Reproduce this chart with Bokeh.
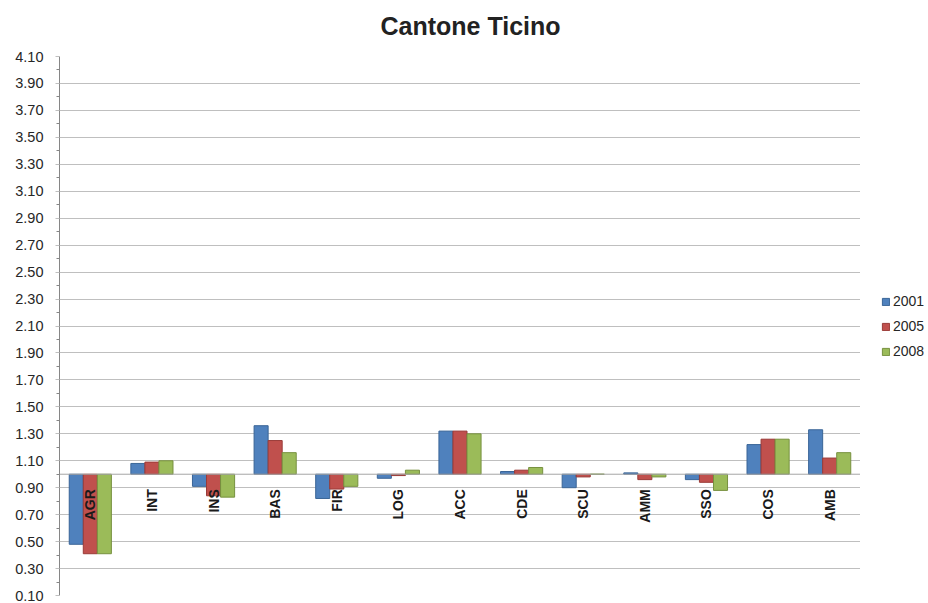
import numpy as np
from bokeh.plotting import figure
from bokeh.layouts import row
from bokeh.models import (Range1d, FactorRange, FixedTicker, NumeralTickFormatter,
                          ColumnDataSource, Span, Legend, LegendItem, Title)
from bokeh.transform import dodge
from bokeh.core.properties import value
from bokeh.embed import file_html
from bokeh.resources import INLINE

categories = ["AGR", "INT", "INS", "BAS", "FIR", "LOG", "ACC", "CDE", "SCU", "AMM", "SSO", "COS", "AMB"]
years = ["2001", "2005", "2008"]
v2001 = [0.48, 1.08, 0.91, 1.36, 0.82, 0.97, 1.32, 1.02, 0.90, 1.01, 0.96, 1.22, 1.33]
v2005 = [0.41, 1.09, 0.84, 1.25, 0.89, 0.99, 1.32, 1.03, 0.98, 0.96, 0.94, 1.26, 1.12]
v2008 = [0.41, 1.10, 0.83, 1.16, 0.91, 1.03, 1.30, 1.05, 1.00, 0.98, 0.88, 1.26, 1.16]
baseline = 1.0
y_ticks = [0.10, 0.30, 0.50, 0.70, 0.90, 1.10, 1.30, 1.50, 1.70, 1.90, 2.10, 2.30, 2.50,
           2.70, 2.90, 3.10, 3.30, 3.50, 3.70, 3.90, 4.10]
y_minor = [0.20, 0.40, 0.60, 0.80, 1.00, 1.20, 1.40, 1.60, 1.80, 2.00, 2.20, 2.40, 2.60,
           2.80, 3.00, 3.20, 3.40, 3.60, 3.80, 4.00]
title_text = "Cantone Ticino"

fills = ["#4F81BD", "#C0504D", "#9BBB59"]
lines = ["#3A6597", "#9A3B38", "#77913F"]
FONT = "Liberation Sans"

src = ColumnDataSource(dict(cat=categories, y2001=v2001, y2005=v2005, y2008=v2008,
                            base=[baseline] * len(categories)))

p = figure(width=860, height=603, x_range=FactorRange(*categories, range_padding=0),
           y_range=Range1d(0.10, 4.10), output_backend="svg", toolbar_location=None,
           min_border_left=59, min_border_right=0, min_border_top=56, min_border_bottom=8)
p.outline_line_color = None

# a small spacer title next to the frame lifts the main title into place
p.add_layout(Title(text=" ", text_font_size="10px", standoff=4, text_color="#FFFFFF"), "above")
p.add_layout(Title(text=title_text, align="left", offset=321, standoff=0,
                   text_font=FONT, text_font_size="25px", text_font_style="bold",
                   text_color="#222222"), "above")

p.xaxis.visible = False
p.xgrid.grid_line_color = None
p.ygrid.grid_line_color = "#BFBFBF"
p.ygrid.grid_line_width = 1

yax = p.yaxis[0]
yax.ticker = FixedTicker(ticks=y_ticks, minor_ticks=y_minor)
yax.formatter = NumeralTickFormatter(format="0.00")
yax.axis_line_color = "#868686"
yax.major_tick_line_color = "#BFBFBF"
yax.minor_tick_line_color = "#868686"
yax.major_tick_out = 4
yax.major_tick_in = 0
yax.minor_tick_out = 3
yax.minor_tick_in = 0
yax.major_label_standoff = 12
yax.major_label_text_font = FONT
yax.major_label_text_font_size = "14.5px"
yax.major_label_text_color = "#262626"

w = 0.228
for i, col in enumerate(["y2001", "y2005", "y2008"]):
    p.vbar(x=dodge("cat", (i - 1) * w, range=p.x_range), width=w, top=col, bottom="base",
           source=src, fill_color=fills[i], line_color=lines[i], line_width=1)

p.add_layout(Span(location=baseline, dimension="width", line_color="#A6A6A6", line_width=1))

p.text(x="cat", y="base", text="cat", source=src, angle=np.pi / 2, text_align="right",
       text_baseline="middle", y_offset=15, text_font=value(FONT), text_font_size="14px",
       text_font_style="bold", text_color="#1A1A1A")

# legend panel (separate narrow figure to the right of the plot area);
# proxy glyphs sit outside its visible range so only the legend swatches show
lg = figure(width=68, height=603, x_range=Range1d(0, 1), y_range=Range1d(0, 1),
            output_backend="svg", toolbar_location=None, min_border=0)
lg.axis.visible = False
lg.grid.visible = False
lg.outline_line_color = None
items = []
for i, yr in enumerate(years):
    r = lg.vbar(x=[5], top=[5], bottom=[4], width=0.5, fill_color=fills[i], line_color=lines[i])
    items.append(LegendItem(label=yr, renderers=[r]))
legend = Legend(items=items, location=(21, 236), glyph_width=9, glyph_height=9,
                label_standoff=3, spacing=9, padding=0, margin=0, border_line_color=None,
                background_fill_alpha=0, label_text_font=FONT, label_text_font_size="14px",
                label_text_color="#262626")
lg.add_layout(legend)

layout = row(p, lg, spacing=0)
open("out.html", "w").write(file_html(layout, INLINE))
